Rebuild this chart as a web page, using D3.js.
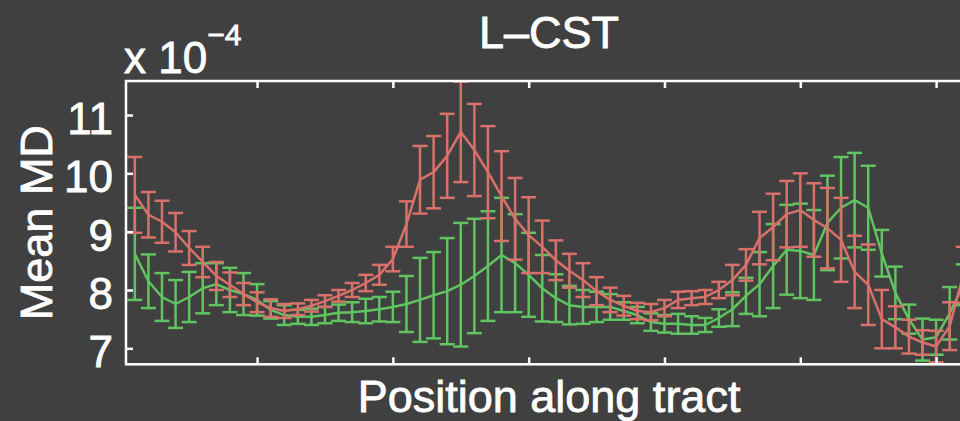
<!DOCTYPE html>
<html><head><meta charset="utf-8">
<script src="https://cdn.jsdelivr.net/npm/d3@7"></script>
<style>html,body{margin:0;padding:0;background:#404040;overflow:hidden}</style>
</head><body>
<svg id="c" width="960" height="421"></svg>
<script>
// ---- data (values in units of 1e-4) ----
const titleText = "L\u2013CST";
const xLabel = "Position along tract";
const yLabel = "Mean MD";
const xTicks = [10, 20, 30, 40, 50, 60];
const yTicks = [7, 8, 9, 10, 11];

const redMean = [9.63,9.29,9.17,8.99,8.72,8.48,8.24,8.09,7.93,7.79,
  7.69,7.64,7.67,7.73,7.81,7.90,8.00,8.12,8.26,8.53,
  9.13,9.89,10.02,10.30,10.71,10.40,10.02,9.61,9.22,8.94,
  8.74,8.51,8.33,8.17,7.98,7.83,7.73,7.64,7.62,7.69,
  7.83,7.86,7.88,8.00,8.17,8.43,8.89,9.08,9.30,9.37,
  9.20,9.06,8.86,8.31,8.09,7.50,7.36,7.20,7.10,7.03,
  7.38,8.26];
const redErr = [0.65,0.39,0.36,0.33,0.29,0.26,0.24,0.21,0.19,0.17,
  0.15,0.12,0.10,0.10,0.10,0.10,0.12,0.14,0.17,0.21,
  0.39,0.58,0.62,0.72,0.86,0.79,0.79,0.77,0.70,0.65,
  0.45,0.34,0.29,0.29,0.24,0.21,0.17,0.14,0.14,0.14,
  0.14,0.12,0.12,0.14,0.26,0.27,0.45,0.57,0.57,0.63,
  0.63,0.69,0.72,0.62,0.69,0.50,0.36,0.29,0.21,0.27,
  0.41,0.48];
const greenMean = [8.62,8.15,7.88,7.76,7.88,8.03,8.10,8.00,7.93,7.83,
  7.66,7.57,7.54,7.54,7.57,7.61,7.62,7.64,7.67,7.71,
  7.76,7.83,7.91,7.98,8.09,8.24,8.41,8.60,8.46,8.26,
  8.03,7.86,7.74,7.71,7.71,7.71,7.64,7.57,7.45,7.42,
  7.42,7.40,7.40,7.52,7.67,7.90,8.10,8.41,8.69,8.67,
  8.60,9.15,9.41,9.54,9.41,8.63,7.95,7.50,7.15,7.19,
  7.60,8.09];
const greenErr = [0.79,0.46,0.41,0.41,0.43,0.43,0.36,0.38,0.36,0.27,
  0.15,0.17,0.12,0.14,0.14,0.14,0.17,0.21,0.21,0.26,
  0.48,0.72,0.74,0.91,1.06,0.98,0.94,0.98,0.84,0.72,
  0.57,0.41,0.33,0.29,0.26,0.22,0.15,0.14,0.15,0.15,
  0.17,0.15,0.12,0.15,0.29,0.31,0.55,0.72,0.77,0.81,
  0.77,0.81,0.87,0.81,0.72,0.40,0.45,0.25,0.36,0.30,
  0.45,0.35];

// ---- drawing ----
const BG = "#404040", RED = "#d9716b", GREEN = "#60c460", FG = "#ffffff";
const FONT = "'Liberation Sans', Arial, Helvetica, sans-serif";
const svg = d3.select("#c");
svg.append("rect").attr("width", 960).attr("height", 421).attr("fill", BG);

const L = 126, R = 972.1, T = 81, B = 364.3;
const x = d3.scaleLinear().domain([0.35, 62.65]).range([L, R]);
const y = d3.scaleLinear().domain([6.726, 11.583]).range([B, T]);

function series(mean, err, color) {
  const pts = mean.map((m, i) => ({ n: i + 1, m, e: err[i] }));
  const g = svg.append("g").attr("stroke", color).attr("stroke-width", 2.5).attr("fill", "none");
  g.selectAll("line.v").data(pts).join("line").attr("class", "v")
    .attr("x1", d => x(d.n)).attr("x2", d => x(d.n))
    .attr("y1", d => y(d.m - d.e)).attr("y2", d => y(d.m + d.e));
  g.selectAll("line.t").data(pts).join("line").attr("class", "t")
    .attr("x1", d => x(d.n) - 7.5).attr("x2", d => x(d.n) + 7.5)
    .attr("y1", d => y(d.m + d.e)).attr("y2", d => y(d.m + d.e));
  g.selectAll("line.b").data(pts).join("line").attr("class", "b")
    .attr("x1", d => x(d.n) - 7.5).attr("x2", d => x(d.n) + 7.5)
    .attr("y1", d => y(d.m - d.e)).attr("y2", d => y(d.m - d.e));
  g.append("path").datum(pts)
    .attr("d", d3.line().x(d => x(d.n)).y(d => y(d.m)))
    .attr("stroke-linejoin", "round");
}
series(greenMean, greenErr, GREEN);
series(redMean, redErr, RED);

// axes box
svg.append("rect").attr("x", L).attr("y", T).attr("width", R - L).attr("height", B - T)
  .attr("fill", "none").attr("stroke", FG).attr("stroke-width", 2.5);

function styleAxis(g) {
  g.select(".domain").remove();
  g.selectAll(".tick line").attr("stroke", FG).attr("stroke-width", 2.5);
}
svg.append("g").attr("transform", `translate(0,${B})`)
  .call(d3.axisBottom(x).tickValues(xTicks).tickSizeInner(-7).tickSizeOuter(0).tickFormat(""))
  .call(styleAxis);
svg.append("g").attr("transform", `translate(0,${T})`)
  .call(d3.axisTop(x).tickValues(xTicks).tickSizeInner(-7).tickSizeOuter(0).tickFormat(""))
  .call(styleAxis);
const ya = svg.append("g").attr("transform", `translate(${L},0)`)
  .call(d3.axisLeft(y).tickValues(yTicks).tickFormat(d3.format("d"))
    .tickSizeInner(-7).tickSizeOuter(0).tickPadding(13))
  .call(styleAxis);
ya.selectAll(".tick text").attr("fill", FG).attr("font-family", FONT)
  .attr("font-size", 44).attr("dy", "0.42em")
  .attr("stroke", FG).attr("stroke-width", 0.8);

// texts
function txt(sel) {
  return sel.attr("fill", FG).attr("font-family", FONT).attr("stroke", FG).attr("stroke-width", 0.8);
}
txt(svg.append("text").attr("x", (L + R) / 2).attr("y", 48).attr("text-anchor", "middle")
  .attr("font-size", 45).text(titleText));
txt(svg.append("text").attr("x", (L + R) / 2).attr("y", 412).attr("text-anchor", "middle")
  .attr("font-size", 45).text(xLabel));
txt(svg.append("text").attr("transform", `translate(52,${(T + B) / 2}) rotate(-90)`)
  .attr("text-anchor", "middle").attr("font-size", 45).text(yLabel));
const ex = txt(svg.append("text").attr("x", 124).attr("y", 73).attr("font-size", 44));
ex.append("tspan").text("x 10");
ex.append("tspan").attr("dy", -28).attr("font-size", 30).text("\u22124");
</script>
</body></html>
